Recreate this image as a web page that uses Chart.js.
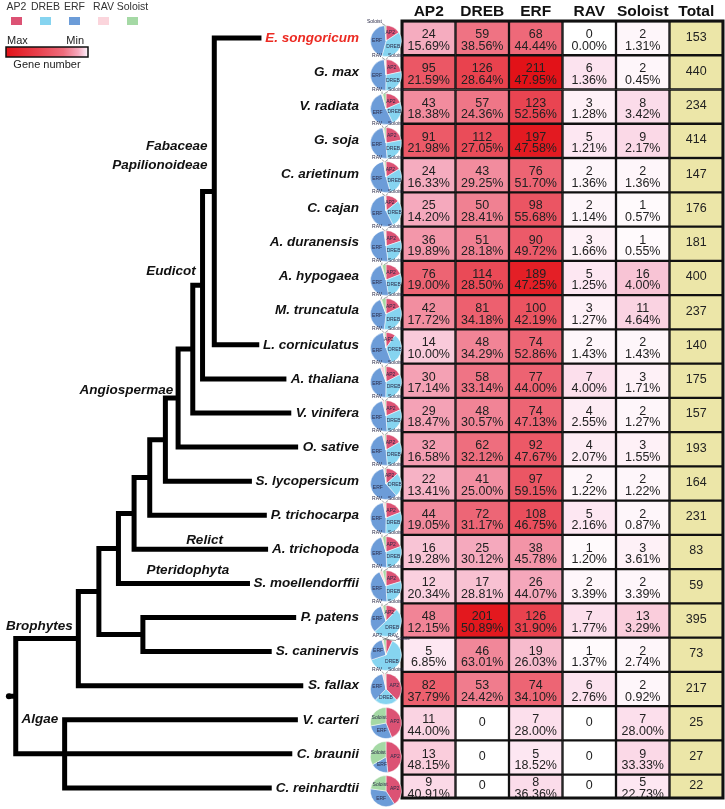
<!DOCTYPE html>
<html>
<head>
<meta charset="utf-8">
<script src="https://cdn.jsdelivr.net/npm/chart.js"></script>
<style>
  html, body { margin: 0; padding: 0; background: #fff; }
  #wrap { position: relative; width: 725px; height: 809px; overflow: hidden; }
  #wrap > div { position: absolute; }
</style>
</head>
<body>
<div id="wrap">
  <div style="left:0;top:0"><canvas id="tree" width="365" height="809"></canvas></div>
  <div style="left:400px;top:0"><canvas id="table" width="325" height="800"></canvas></div>
</div>
<script>
const species = ['E. songoricum', 'G. max', 'V. radiata', 'G. soja', 'C. arietinum', 'C. cajan',
  'A. duranensis', 'A. hypogaea', 'M. truncatula', 'L. corniculatus', 'A. thaliana', 'V. vinifera',
  'O. sative', 'S. lycopersicum', 'P. trichocarpa', 'A. trichopoda', 'S. moellendorffii', 'P. patens',
  'S. caninervis', 'S. fallax', 'V. carteri', 'C. braunii', 'C. reinhardtii'];
const families = ['AP2', 'DREB', 'ERF', 'RAV', 'Soloist'];
const columns = ['AP2', 'DREB', 'ERF', 'RAV', 'Soloist', 'Total'];

const ap2 = [24, 95, 43, 91, 24, 25, 36, 76, 42, 14, 30, 29, 32, 22, 44, 16, 12, 48, 5, 82, 11, 13, 9];
const dreb = [59, 126, 57, 112, 43, 50, 51, 114, 81, 48, 58, 48, 62, 41, 72, 25, 17, 201, 46, 53, 0, 0, 0];
const erf = [68, 211, 123, 197, 76, 98, 90, 189, 100, 74, 77, 74, 92, 97, 108, 38, 26, 126, 19, 74, 7, 5, 8];
const rav = [0, 6, 3, 5, 2, 2, 3, 5, 3, 2, 7, 4, 4, 2, 5, 1, 2, 7, 1, 6, 0, 0, 0];
const soloist = [2, 2, 8, 9, 2, 1, 1, 16, 11, 2, 3, 2, 3, 2, 2, 3, 2, 13, 2, 2, 7, 9, 5];
const totals = [153, 440, 234, 414, 147, 176, 181, 400, 237, 140, 175, 157, 193, 164, 231, 83, 59, 395, 73, 217, 25, 27, 22];

const ap2Pct = [15.69, 21.59, 18.38, 21.98, 16.33, 14.20, 19.89, 19.00, 17.72, 10.00, 17.14, 18.47, 16.58, 13.41, 19.05, 19.28, 20.34, 12.15, 6.85, 37.79, 44.00, 48.15, 40.91];
const drebPct = [38.56, 28.64, 24.36, 27.05, 29.25, 28.41, 28.18, 28.50, 34.18, 34.29, 33.14, 30.57, 32.12, 25.00, 31.17, 30.12, 28.81, 50.89, 63.01, 24.42, null, null, null];
const erfPct = [44.44, 47.95, 52.56, 47.58, 51.70, 55.68, 49.72, 47.25, 42.19, 52.86, 44.00, 47.13, 47.67, 59.15, 46.75, 45.78, 44.07, 31.90, 26.03, 34.10, 28.00, 18.52, 36.36];
const ravPct = [0.00, 1.36, 1.28, 1.21, 1.36, 1.14, 1.66, 1.25, 1.27, 1.43, 4.00, 2.55, 2.07, 1.22, 2.16, 1.20, 3.39, 1.77, 1.37, 2.76, null, null, null];
const soloistPct = [1.31, 0.45, 3.42, 2.17, 1.36, 0.57, 0.55, 4.00, 4.64, 1.43, 1.71, 1.27, 1.55, 1.22, 0.87, 3.61, 3.39, 3.29, 2.74, 0.92, 28.00, 33.33, 22.73];

// tree: internal nodes {d: depth, c: children}, leaves are row numbers in species[]
const tree = {d: 12, stem: 5, c: [
  {d: 76, c: [
    {d: 97, c: [
      {d: 117, c: [
        {d: 133, c: [
          {d: 149, c: [
            {d: 165, c: [
              {d: 178, c: [
                {d: 193, c: [
                  {d: 203, c: [
                    {d: 215, c: [0, 1, 2, 3, 4, 5, 6, 7, 8, 9], hideInner: true},
                    10]},
                  11]},
                12]},
              13]},
            14]},
          15]},
        16]},
      {d: 142, c: [17, 18]}]},
    19]},
  {d: 62, c: [20, 21, 22]}]};

const cladeLabels = [
  {text: 'Fabaceae', x: 208, y: 3.18, align: 'right'},
  {text: 'Papilionoideae', x: 208, y: 3.73, align: 'right'},
  {text: 'Eudicot', x: 196, y: 6.85, align: 'right'},
  {text: 'Angiospermae', x: 173, y: 10.33, align: 'right'},
  {text: 'Relict', x: 205, y: 14.72, align: 'center'},
  {text: 'Pteridophyta', x: 188, y: 15.6, align: 'center'},
  {text: 'Brophytes', x: 2, y: 17.25, align: 'left'},
  {text: 'Algae', x: 18, y: 19.99, align: 'left'}
];

const labelRight = 363;
const FONT = '"Liberation Sans", Arial, sans-serif';
const LABEL_FONT = 'italic bold 13.5px ' + FONT;
const pieColors = ['#dc5274', '#86d4f0', '#6c9cd8', '#fbd5dc', '#a5d9a5'];
const totalColor = '#ece6a8';
const heatStops = [[0, [255, 255, 255]], [0.03, [252, 225, 238]], [0.12, [245, 168, 188]],
  [0.3, [238, 108, 124]], [0.6, [233, 66, 78]], [1, [226, 18, 24]]];

Chart.defaults.font.family = FONT;

function heat(t) {
  for (let k = 1; k < heatStops.length; k++) {
    const [t1, c1] = heatStops[k];
    if (t <= t1) {
      const [t0, c0] = heatStops[k - 1];
      const f = (t - t0) / (t1 - t0);
      return 'rgb(' + c0.map((c, m) => Math.round(c + (c1[m] - c) * f)).join(',') + ')';
    }
  }
  return 'rgb(226,18,24)';
}

// ---- tree segments
const mctx = document.createElement('canvas').getContext('2d');
mctx.font = LABEL_FONT;
function leafEnd(i) {
  return labelRight - mctx.measureText(species[i]).width - 6;
}
const segments = [];
function place(node) {
  if (typeof node === 'number') return {x: leafEnd(node), y: node};
  const kids = node.c.map(place);
  const first = kids[0], last = kids[kids.length - 1];
  segments.push([{x: first.x, y: first.y}, {x: node.d, y: first.y}, {x: node.d, y: last.y}, {x: last.x, y: last.y}]);
  if (!node.hideInner) {
    kids.slice(1, -1).forEach(k => segments.push([{x: node.d, y: k.y}, {x: k.x, y: k.y}]));
  }
  return {x: node.d, y: (first.y + last.y) / 2};
}
const rootPos = place(tree);
segments.push([{x: tree.stem, y: rootPos.y}, {x: tree.d, y: rootPos.y}]);

const treeText = {
  id: 'treeText',
  afterDatasetsDraw(chart) {
    const {ctx, scales: {x, y}} = chart;
    ctx.save();
    ctx.textBaseline = 'middle';
    ctx.font = LABEL_FONT;
    ctx.textAlign = 'right';
    species.forEach((s, i) => {
      ctx.fillStyle = i === 0 ? '#ec2a22' : '#111';
      ctx.fillText(s, x.getPixelForValue(labelRight), y.getPixelForValue(i));
    });
    ctx.fillStyle = '#111';
    cladeLabels.forEach(l => {
      ctx.textAlign = l.align;
      ctx.fillText(l.text, x.getPixelForValue(l.x), y.getPixelForValue(l.y));
    });

    // legend
    ctx.font = '10.5px ' + FONT;
    ctx.textAlign = 'center';
    families.forEach((f, k) => {
      const cx = 16.5 + 29 * k;
      ctx.fillStyle = '#333';
      ctx.fillText(f, cx, 7);
      ctx.fillStyle = pieColors[k];
      ctx.fillRect(cx - 5.5, 17, 11, 8);
    });
    ctx.fillStyle = '#222';
    ctx.font = '11px ' + FONT;
    ctx.textAlign = 'left';
    ctx.fillText('Max', 7, 41);
    ctx.textAlign = 'right';
    ctx.fillText('Min', 84, 41);
    ctx.textAlign = 'center';
    ctx.fillText('Gene number', 47, 65);
    const g = ctx.createLinearGradient(6, 0, 88, 0);
    heatStops.forEach(([t]) => g.addColorStop(1 - t, heat(t)));
    ctx.fillStyle = g;
    ctx.fillRect(6, 47, 82, 10);
    ctx.lineWidth = 1.5;
    ctx.strokeStyle = '#111';
    ctx.strokeRect(6, 47, 82, 10);
    ctx.restore();
  }
};

const treeChart = new Chart(document.getElementById('tree'), {
  type: 'scatter',
  data: {
    datasets: segments.map((seg, k) => ({
      data: seg,
      showLine: true,
      borderColor: '#000',
      borderWidth: 5,
      borderJoinStyle: 'miter',
      borderCapStyle: 'butt',
      pointRadius: k === segments.length - 1 ? [3, 0] : 0,
      pointBackgroundColor: '#000',
      pointBorderWidth: 0
    }))
  },
  options: {
    responsive: false,
    animation: false,
    events: [],
    devicePixelRatio: 1,
    layout: {padding: {top: 21, bottom: 0, left: 0, right: 0}},
    plugins: {legend: {display: false}, tooltip: {enabled: false}},
    scales: {
      x: {type: 'linear', min: 0, max: 365, display: false},
      y: {type: 'linear', min: -0.5, max: 22.5, reverse: true, display: false}
    }
  },
  plugins: [treeText]
});

// ---- heatmap table
const counts = [ap2, dreb, erf, rav, soloist];
const pcts = [ap2Pct, drebPct, erfPct, ravPct, soloistPct];
const maxCount = Math.max(...counts.flat());
const visibleRows = 22.68; // the source figure is cropped inside the last row

const cellText = {
  id: 'cellText',
  afterDatasetsDraw(chart) {
    const {ctx, chartArea} = chart;
    ctx.save();
    ctx.textAlign = 'center';
    ctx.textBaseline = 'middle';
    ctx.fillStyle = '#222';
    ctx.font = '12.5px ' + FONT;
    chart.data.datasets.forEach((ds, i) => {
      chart.getDatasetMeta(i).data.forEach((bar, j) => {
        const top = Math.max(Math.min(bar.y, bar.base), chartArea.top);
        const bottom = Math.min(Math.max(bar.y, bar.base), chartArea.bottom);
        const cy = (top + bottom) / 2;
        if (j === 5) {
          ctx.fillText(String(totals[i]), bar.x, cy - 1);
          return;
        }
        const p = pcts[j][i];
        if (p === null) {
          ctx.fillText(String(counts[j][i]), bar.x, cy - 1);
        } else {
          ctx.fillText(String(counts[j][i]), bar.x, cy - 3.5);
          ctx.fillText(p.toFixed(2) + '%', bar.x, cy + 8);
        }
      });
    });
    ctx.lineWidth = 3;
    ctx.strokeStyle = '#111';
    ctx.strokeRect(chartArea.left, chartArea.top, chartArea.right - chartArea.left, chartArea.bottom - chartArea.top);
    ctx.restore();
  }
};

const tableChart = new Chart(document.getElementById('table'), {
  type: 'bar',
  data: {
    labels: columns,
    datasets: species.map((name, i) => ({
      label: name,
      data: columns.map(() => [i - 0.5, i + 0.5]),
      backgroundColor: columns.map((c, j) => j < 5 ? heat(counts[j][i] / maxCount) : totalColor),
      borderColor: '#111',
      borderWidth: 1.5,
      borderSkipped: false,
      grouped: false,
      barPercentage: 1,
      categoryPercentage: 1,
      clip: 0
    }))
  },
  options: {
    responsive: false,
    animation: false,
    events: [],
    devicePixelRatio: 1,
    layout: {padding: {top: 0, bottom: 2, left: 2, right: 2}},
    plugins: {legend: {display: false}, tooltip: {enabled: false}},
    scales: {
      x: {
        type: 'category',
        position: 'top',
        grid: {display: false, drawTicks: false},
        border: {display: false},
        ticks: {color: '#111', padding: 0, maxRotation: 0, minRotation: 0, autoSkip: false,
          font: {size: 15.5, weight: 'bold'}},
        afterFit: s => { s.height = 21; }
      },
      y: {type: 'linear', min: -0.5, max: visibleRows - 0.5, reverse: true, display: false}
    }
  },
  plugins: [cellText]
});

// ---- pies
const pieLabels = {
  id: 'pieLabels',
  afterDatasetsDraw(chart) {
    const ctx = chart.ctx;
    const vals = chart.data.datasets[0].data;
    const sum = vals.reduce((a, b) => a + b, 0);
    ctx.save();
    ctx.font = '5px ' + FONT;
    ctx.textBaseline = 'middle';
    ctx.fillStyle = '#2b2b48';
    ctx.strokeStyle = '#444';
    ctx.lineWidth = 0.5;
    let outside = 0;
    chart.getDatasetMeta(0).data.forEach((arc, k) => {
      if (!vals[k]) return;
      const mid = (arc.startAngle + arc.endAngle) / 2;
      if (vals[k] / sum >= 0.08) {
        const r = arc.outerRadius * 0.58;
        ctx.textAlign = 'center';
        ctx.fillText(families[k], arc.x + Math.cos(mid) * r, arc.y + Math.sin(mid) * r);
      } else {
        const sx = arc.x + Math.cos(mid) * arc.outerRadius;
        const sy = arc.y + Math.sin(mid) * arc.outerRadius;
        const tx = arc.x + [-4, 2, 10][outside];
        const ty = arc.y - arc.outerRadius - [4, 4, 1][outside];
        ctx.beginPath();
        ctx.moveTo(sx, sy);
        ctx.lineTo(tx, ty + 2);
        ctx.stroke();
        ctx.textAlign = outside === 0 ? 'right' : 'left';
        ctx.fillText(families[k], tx, ty);
        outside++;
      }
    });
    ctx.restore();
  }
};

const wrap = document.getElementById('wrap');
const pieX = 400 + tableChart.chartArea.left - 16;
species.forEach((name, i) => {
  const box = document.createElement('div');
  const cy = treeChart.scales.y.getPixelForValue(i) + 3;
  box.style.left = (pieX - 24) + 'px';
  box.style.top = (cy - 27) + 'px';
  const cv = document.createElement('canvas');
  cv.width = 48;
  cv.height = 46;
  box.appendChild(cv);
  wrap.appendChild(box);
  new Chart(cv, {
    type: 'pie',
    data: {
      labels: families,
      datasets: [{
        data: [ap2[i], dreb[i], erf[i], rav[i], soloist[i]],
        backgroundColor: pieColors,
        borderColor: '#fff',
        borderWidth: 0.5,
        radius: 15.5
      }]
    },
    options: {
      responsive: false,
      animation: false,
      events: [],
      devicePixelRatio: 1,
      layout: {padding: {top: 10, bottom: 2, left: 7, right: 7}},
      plugins: {legend: {display: false}, tooltip: {enabled: false}}
    },
    plugins: [pieLabels]
  });
});
</script>
</body>
</html>
